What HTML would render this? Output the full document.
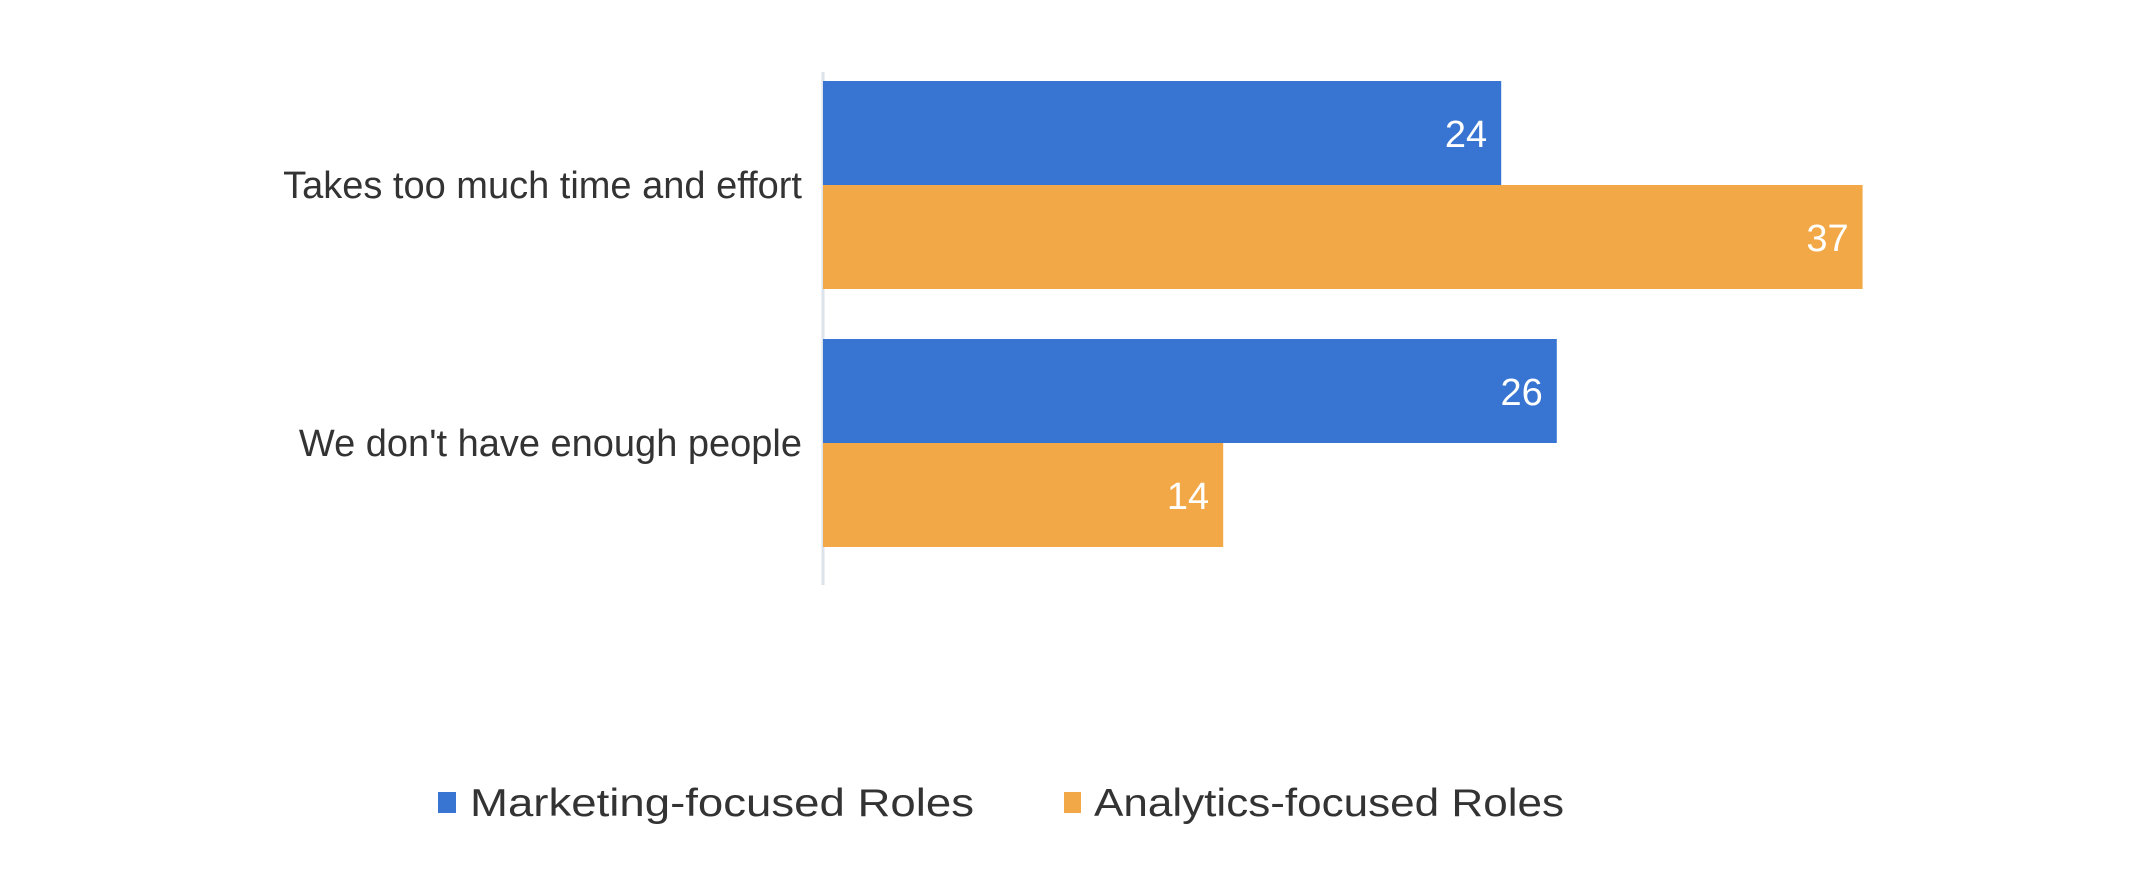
<!DOCTYPE html>
<html><head><meta charset="utf-8"><style>
html,body{margin:0;padding:0;background:#fff;width:2150px;height:870px;overflow:hidden}
svg text{font-family:"Liberation Sans",Arial,sans-serif}
</style></head><body>
<svg id="chart" width="2150" height="870" xmlns="http://www.w3.org/2000/svg">
<line x1="823" y1="72" x2="823" y2="585" stroke="#dde3ea" stroke-width="3"/>
<g id="bars"></g>
<g>
<rect x="438" y="792" width="18" height="21" fill="#3874d1"/>
<text x="470" y="816" font-size="39" fill="#333" textLength="504" lengthAdjust="spacingAndGlyphs">Marketing-focused Roles</text>
<rect x="1064" y="792" width="17" height="21" fill="#f2a846"/>
<text x="1094" y="816" font-size="39" fill="#333" textLength="470" lengthAdjust="spacingAndGlyphs">Analytics-focused Roles</text>
</g>
</svg>
<script>
const categories = ["Takes too much time and effort", "We don't have enough people"];
const marketing = [24, 26];
const analytics = [37, 14];
const seriesNames = ["marketing", "analytics"];
const colors = ["#3874d1", "#f2a846"];
const NS = "http://www.w3.org/2000/svg";
const axisX = 823;
function x(v){ return 834 + v * 27.8; }
const groupTop = [81, 339];
const barH = 104;
const g = document.getElementById('bars');
categories.forEach((cat, i) => {
  [marketing, analytics].forEach((series, s) => {
    const v = series[i];
    const y = groupTop[i] + s * barH;
    const r = document.createElementNS(NS, 'rect');
    
    
    r.setAttribute('x', axisX);
    r.setAttribute('y', y);
    r.setAttribute('width', x(v) - axisX);
    r.setAttribute('height', barH);
    r.setAttribute('fill', colors[s]);
    g.appendChild(r);
    const t = document.createElementNS(NS, 'text');
    
    
    t.setAttribute('x', x(v) - 14);
    t.setAttribute('y', y + barH/2 + 14);
    t.setAttribute('text-anchor', 'end');
    t.setAttribute('font-size', '38');
    t.setAttribute('fill', '#fff');
    t.textContent = v;
    g.appendChild(t);
  });
  const c = document.createElementNS(NS, 'text');
  
  
  c.setAttribute('x', 802);
  c.setAttribute('y', groupTop[i] + barH + 13);
  c.setAttribute('text-anchor', 'end');
  c.setAttribute('font-size', '38');
  c.setAttribute('fill', '#333');
  c.textContent = cat;
  g.appendChild(c);
});
</script>
</body></html>
